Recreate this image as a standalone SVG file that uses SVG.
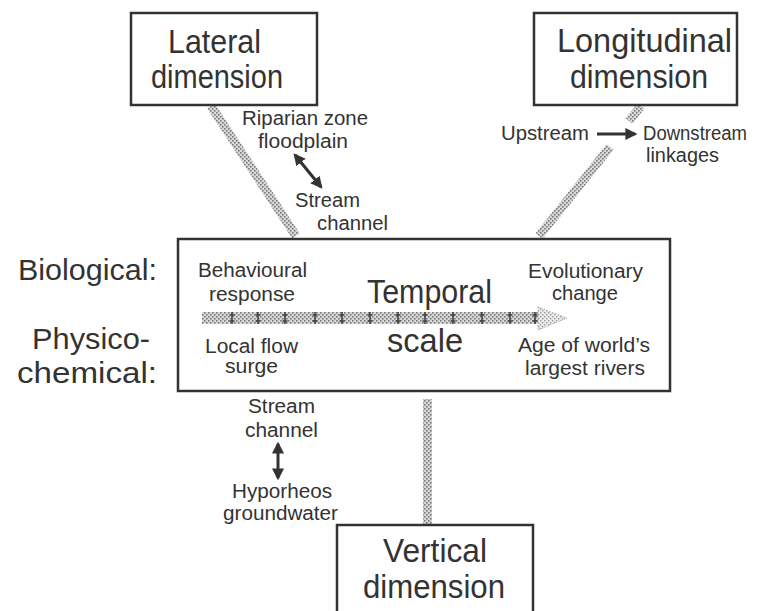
<svg xmlns="http://www.w3.org/2000/svg" width="765" height="611" viewBox="0 0 765 611">
<defs>
<pattern id="dots" width="4" height="4" patternUnits="userSpaceOnUse">
<rect width="4" height="4" fill="#d8d8d8"/>
<rect x="0" y="0" width="1.6" height="1.6" fill="#7a7a7a"/>
<rect x="2" y="2" width="1.6" height="1.6" fill="#7a7a7a"/>
</pattern>
<pattern id="dotsLight" width="4" height="4" patternUnits="userSpaceOnUse">
<rect width="4" height="4" fill="#ececec"/>
<rect x="0" y="0" width="1.4" height="1.4" fill="#9a9a9a"/>
<rect x="2" y="2" width="1.4" height="1.4" fill="#9a9a9a"/>
</pattern>
<marker id="ah" viewBox="0 0 10 10" refX="8" refY="5" markerWidth="12" markerHeight="12" markerUnits="userSpaceOnUse" orient="auto-start-reverse">
<path d="M0,0 L10,5 L0,10 Z" fill="#333"/>
</marker>
</defs>
<style>
.box{fill:none;stroke:#333;stroke-width:2.5}
.big{font-family:"Liberation Sans",Arial,sans-serif;font-size:33px;fill:#333}
.mid{font-family:"Liberation Sans",Arial,sans-serif;font-size:30px;fill:#333}
.sm{font-family:"Liberation Sans",Arial,sans-serif;font-size:20px;fill:#333}
.band{fill:none;stroke:url(#dots);stroke-width:9}
.arr{fill:none;stroke:#333;stroke-width:3}
.tick{stroke:#444;stroke-width:1.6}
</style>
<rect width="765" height="611" fill="#ffffff"/>

<g id="connectors">
<line class="band" x1="211" y1="106" x2="296" y2="236"/>
<line class="band" x1="641" y1="106" x2="629" y2="121"/>
<line class="band" x1="610" y1="147" x2="539" y2="236"/>
<line class="band" x1="427.5" y1="399" x2="427.5" y2="524"/>
<line class="arr" x1="295" y1="155" x2="321" y2="187" marker-start="url(#ah)" marker-end="url(#ah)"/>
<line class="arr" x1="278" y1="444" x2="278" y2="478" marker-start="url(#ah)" marker-end="url(#ah)"/>
<line class="arr" x1="597" y1="134" x2="635" y2="134" stroke-width="2.5" marker-end="url(#ah)"/>
</g>

<g id="lateral">
<rect class="box" x="131" y="13" width="186" height="92"/>
<text class="big" x="168" y="53" textLength="93" lengthAdjust="spacingAndGlyphs">Lateral</text>
<text class="big" x="151" y="88" textLength="132" lengthAdjust="spacingAndGlyphs">dimension</text>
</g>

<g id="lateral-labels">
<text class="sm" x="242" y="125" textLength="126" lengthAdjust="spacingAndGlyphs">Riparian zone</text>
<text class="sm" x="258" y="148" textLength="90" lengthAdjust="spacingAndGlyphs">floodplain</text>
<text class="sm" x="295" y="207" textLength="65" lengthAdjust="spacingAndGlyphs">Stream</text>
<text class="sm" x="317" y="230" textLength="71" lengthAdjust="spacingAndGlyphs">channel</text>
</g>

<g id="longitudinal">
<rect class="box" x="534" y="13" width="203" height="92"/>
<text class="big" x="557" y="52" textLength="175" lengthAdjust="spacingAndGlyphs">Longitudinal</text>
<text class="big" x="570" y="88" textLength="138" lengthAdjust="spacingAndGlyphs">dimension</text>
</g>

<g id="longitudinal-labels">
<text class="sm" x="501" y="140" textLength="88" lengthAdjust="spacingAndGlyphs">Upstream</text>
<text class="sm" x="643" y="140" textLength="104" lengthAdjust="spacingAndGlyphs">Downstream</text>
<text class="sm" x="646" y="162" textLength="73" lengthAdjust="spacingAndGlyphs">linkages</text>
</g>

<g id="side-labels">
<text class="mid" x="18" y="280" textLength="139" lengthAdjust="spacingAndGlyphs">Biological:</text>
<text class="mid" x="32" y="349" textLength="118" lengthAdjust="spacingAndGlyphs">Physico-</text>
<text class="mid" x="17" y="383" textLength="140" lengthAdjust="spacingAndGlyphs">chemical:</text>
</g>

<g id="temporal-scale">
<rect class="box" x="178" y="239" width="492" height="152"/>
<rect x="202" y="312" width="337" height="12" fill="url(#dots)"/>
<path d="M538,307 L567,318 L538,330 Z" fill="url(#dotsLight)" stroke="#aaa" stroke-width="1" stroke-dasharray="1.5 1.5"/>
<g class="tick">
<line x1="232" y1="312" x2="232" y2="324"/><line x1="229.5" y1="315" x2="234.5" y2="315"/><line x1="229.5" y1="321" x2="234.5" y2="321"/>
<line x1="258" y1="312" x2="258" y2="324"/><line x1="255.5" y1="315" x2="260.5" y2="315"/><line x1="255.5" y1="321" x2="260.5" y2="321"/>
<line x1="285" y1="312" x2="285" y2="324"/><line x1="282.5" y1="315" x2="287.5" y2="315"/><line x1="282.5" y1="321" x2="287.5" y2="321"/>
<line x1="315" y1="312" x2="315" y2="324"/><line x1="312.5" y1="315" x2="317.5" y2="315"/><line x1="312.5" y1="321" x2="317.5" y2="321"/>
<line x1="342" y1="312" x2="342" y2="324"/><line x1="339.5" y1="315" x2="344.5" y2="315"/><line x1="339.5" y1="321" x2="344.5" y2="321"/>
<line x1="370" y1="312" x2="370" y2="324"/><line x1="367.5" y1="315" x2="372.5" y2="315"/><line x1="367.5" y1="321" x2="372.5" y2="321"/>
<line x1="398" y1="312" x2="398" y2="324"/><line x1="395.5" y1="315" x2="400.5" y2="315"/><line x1="395.5" y1="321" x2="400.5" y2="321"/>
<line x1="425" y1="312" x2="425" y2="324"/><line x1="422.5" y1="315" x2="427.5" y2="315"/><line x1="422.5" y1="321" x2="427.5" y2="321"/>
<line x1="453" y1="312" x2="453" y2="324"/><line x1="450.5" y1="315" x2="455.5" y2="315"/><line x1="450.5" y1="321" x2="455.5" y2="321"/>
<line x1="482" y1="312" x2="482" y2="324"/><line x1="479.5" y1="315" x2="484.5" y2="315"/><line x1="479.5" y1="321" x2="484.5" y2="321"/>
<line x1="510" y1="312" x2="510" y2="324"/><line x1="507.5" y1="315" x2="512.5" y2="315"/><line x1="507.5" y1="321" x2="512.5" y2="321"/>
<line x1="535" y1="312" x2="535" y2="324"/><line x1="532.5" y1="315" x2="537.5" y2="315"/><line x1="532.5" y1="321" x2="537.5" y2="321"/>
</g>
<text class="sm" x="198" y="277" textLength="109" lengthAdjust="spacingAndGlyphs">Behavioural</text>
<text class="sm" x="209" y="301" textLength="86" lengthAdjust="spacingAndGlyphs">response</text>
<text class="sm" x="205" y="353" textLength="93" lengthAdjust="spacingAndGlyphs">Local flow</text>
<text class="sm" x="225" y="373" textLength="53" lengthAdjust="spacingAndGlyphs">surge</text>
<text class="big" x="367" y="303" textLength="125" lengthAdjust="spacingAndGlyphs">Temporal</text>
<text class="big" x="387" y="352" textLength="76" lengthAdjust="spacingAndGlyphs">scale</text>
<text class="sm" x="528" y="278" textLength="115" lengthAdjust="spacingAndGlyphs">Evolutionary</text>
<text class="sm" x="552" y="300" textLength="66" lengthAdjust="spacingAndGlyphs">change</text>
<text class="sm" x="518" y="352" textLength="132" lengthAdjust="spacingAndGlyphs">Age of world’s</text>
<text class="sm" x="525" y="375" textLength="120" lengthAdjust="spacingAndGlyphs">largest rivers</text>
</g>

<g id="vertical-labels">
<text class="sm" x="248" y="413" textLength="67" lengthAdjust="spacingAndGlyphs">Stream</text>
<text class="sm" x="245" y="437" textLength="73" lengthAdjust="spacingAndGlyphs">channel</text>
<text class="sm" x="232" y="498" textLength="100" lengthAdjust="spacingAndGlyphs">Hyporheos</text>
<text class="sm" x="223" y="520" textLength="115" lengthAdjust="spacingAndGlyphs">groundwater</text>
</g>

<g id="vertical">
<rect class="box" x="337" y="525" width="196" height="100"/>
<text class="big" x="383" y="562" textLength="104" lengthAdjust="spacingAndGlyphs">Vertical</text>
<text class="big" x="363" y="598" textLength="142" lengthAdjust="spacingAndGlyphs">dimension</text>
</g>
</svg>
